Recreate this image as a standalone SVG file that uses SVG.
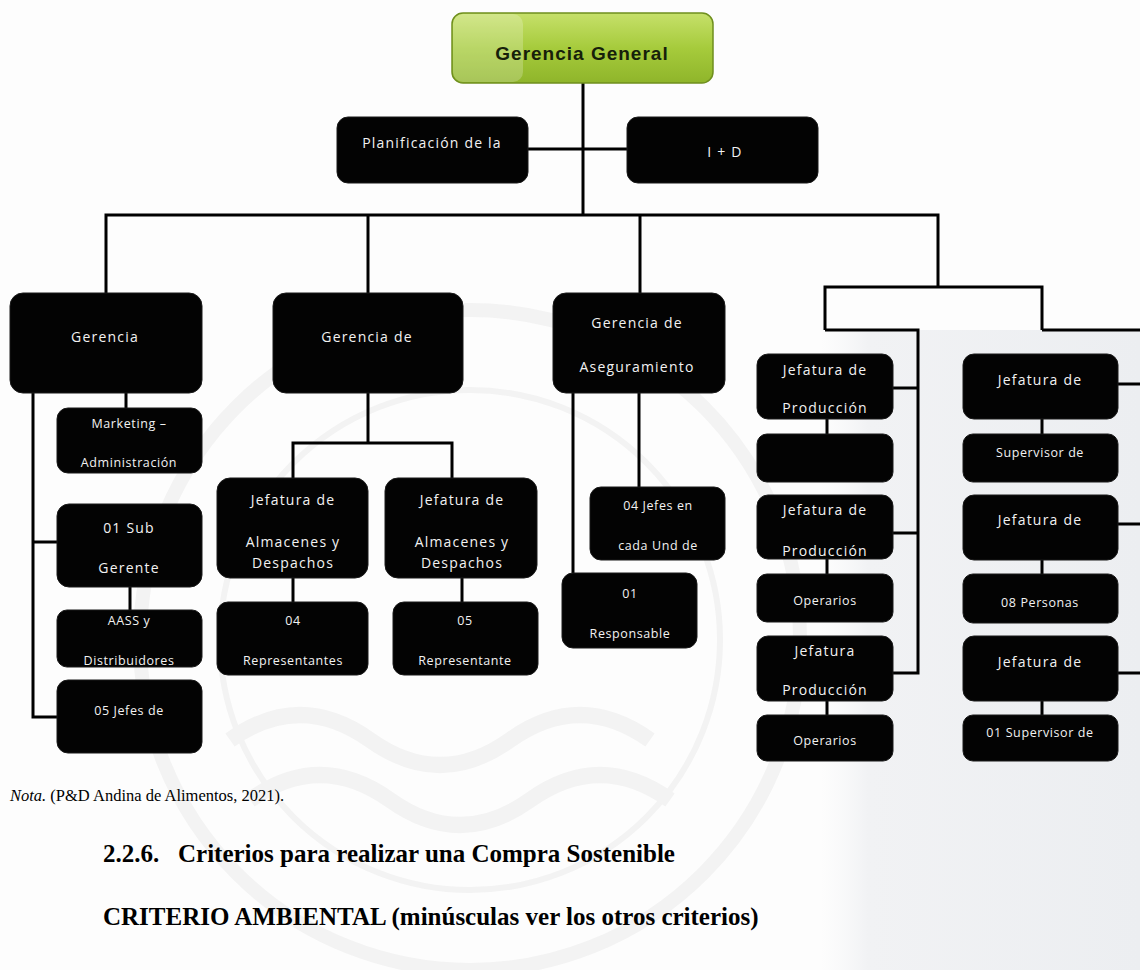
<svg xmlns="http://www.w3.org/2000/svg" width="1140" height="970" viewBox="0 0 1140 970">
  <defs>
    <linearGradient id="gg" x1="0" y1="0" x2="0" y2="1">
      <stop offset="0" stop-color="#c6e06a"/>
      <stop offset="0.5" stop-color="#a6cb3c"/>
      <stop offset="1" stop-color="#8fb52a"/>
    </linearGradient>
    <linearGradient id="side" x1="0" y1="0" x2="1" y2="0">
      <stop offset="0" stop-color="#f6f7f8" stop-opacity="0"/>
      <stop offset="0.15" stop-color="#f1f2f4"/>
      <stop offset="1" stop-color="#eceef1"/>
    </linearGradient>
    <style>
      .box { fill: #030303; stroke: #1a1a1a; stroke-width: 1; }
      .t { font-family: "Open Sans", "Liberation Sans", sans-serif; font-size: 14px; letter-spacing: 1.2px; fill: #f2f2f2; text-anchor: middle; }
      .s { font-size: 12.5px; letter-spacing: 0.6px; }
      .ln { fill: none; stroke: #000; stroke-width: 3; stroke-linejoin: miter; }
      .wm { fill: none; stroke: #f3f3f3; }
      .doc { font-family: "Liberation Serif", "Times New Roman", serif; fill: #000; }
    </style>
  </defs>

  <rect width="1140" height="970" fill="#fdfdfd"/>

  <!-- faint background seal -->
  <g id="watermark">
    <path d="M820 330 H1140 V970 H820 Z" fill="url(#side)"/>
    <circle cx="470" cy="640" r="330" class="wm" stroke-width="14"/>
    <circle cx="470" cy="640" r="250" class="wm" stroke-width="6"/>
    <path d="M230 740 Q300 690 370 740 T510 740 T650 740" class="wm" stroke-width="16"/>
    <path d="M250 800 Q320 750 390 800 T530 800 T670 800" class="wm" stroke-width="16"/>
  </g>

  <!-- connectors -->
  <g id="connectors">
    <path class="ln" d="M583 83 V215"/>
    <path class="ln" d="M528 149 H627"/>
    <path class="ln" d="M106 293 V215 H938 V287"/>
    <path class="ln" d="M368 215 V293"/>
    <path class="ln" d="M640 215 V293"/>
    <path class="ln" d="M825 330 V287 H1042 V330"/>
    <path class="ln" d="M825 330 H918 V673 H893"/>
    <path class="ln" d="M893 388 H918"/>
    <path class="ln" d="M893 533 H918"/>
    <path class="ln" d="M1042 330 H1144 V673 H1118"/>
    <path class="ln" d="M1118 384 H1144"/>
    <path class="ln" d="M1118 524 H1144"/>
    <path class="ln" d="M33 393 V717 H57"/>
    <path class="ln" d="M33 542 H57"/>
    <path class="ln" d="M126 393 V408"/>
    <path class="ln" d="M130 587 V610"/>
    <path class="ln" d="M368 393 V443"/>
    <path class="ln" d="M293 478 V443 H452 V478"/>
    <path class="ln" d="M293 578 V602"/>
    <path class="ln" d="M462 578 V602"/>
    <path class="ln" d="M573 393 V573"/>
    <path class="ln" d="M639 393 V487"/>
    <path class="ln" d="M827 419 V434"/>
    <path class="ln" d="M827 559 V574"/>
    <path class="ln" d="M827 701 V715"/>
    <path class="ln" d="M1042 419 V434"/>
    <path class="ln" d="M1042 560 V574"/>
    <path class="ln" d="M1042 701 V715"/>
  </g>

  <!-- top level -->
  <g id="gerencia-general">
    <rect x="452" y="13" width="261" height="70" rx="11" fill="url(#gg)" stroke="#6f8f1e" stroke-width="1.5"/>
    <rect x="453" y="14" width="70" height="68" rx="10" fill="#ffffff" opacity="0.22"/>
    <text x="582" y="60" font-family="'Liberation Sans', Arial, sans-serif" font-size="19" font-weight="bold" fill="#16200a" text-anchor="middle" letter-spacing="1">Gerencia General</text>
  </g>

  <g id="planificacion">
    <rect class="box" x="337" y="117" width="191" height="66" rx="11"/>
    <text class="t" x="432" y="148">Planificación de la</text>
  </g>
  <g id="i-d">
    <rect class="box" x="627" y="117" width="191" height="66" rx="11"/>
    <text class="t" x="725" y="157">I + D</text>
  </g>

  <!-- left branch -->
  <g id="gerencia">
    <rect class="box" x="10" y="293" width="192" height="100" rx="13"/>
    <text class="t" x="105" y="342">Gerencia</text>
  </g>
  <g id="marketing">
    <rect class="box" x="57" y="408" width="145" height="65" rx="11"/>
    <text class="t s" x="129" y="428">Marketing –</text>
    <text class="t s" x="129" y="467">Administración</text>
  </g>
  <g id="sub-gerente">
    <rect class="box" x="57" y="504" width="145" height="83" rx="12"/>
    <text class="t" x="129" y="533">01 Sub</text>
    <text class="t" x="129" y="573">Gerente</text>
  </g>
  <g id="aass">
    <rect class="box" x="57" y="610" width="145" height="57" rx="10"/>
    <text class="t s" x="129" y="625">AASS y</text>
    <text class="t s" x="129" y="665">Distribuidores</text>
  </g>
  <g id="jefes-05">
    <rect class="box" x="57" y="680" width="145" height="73" rx="11"/>
    <text class="t s" x="129" y="715">05 Jefes de</text>
  </g>

  <!-- second branch -->
  <g id="gerencia-de">
    <rect class="box" x="273" y="293" width="190" height="100" rx="13"/>
    <text class="t" x="367" y="342">Gerencia de</text>
  </g>
  <g id="jefatura-almacenes-1">
    <rect class="box" x="217" y="478" width="151" height="100" rx="13"/>
    <text class="t" x="293" y="505">Jefatura de</text>
    <text class="t" x="293" y="547">Almacenes y</text>
    <text class="t" x="293" y="568">Despachos</text>
  </g>
  <g id="jefatura-almacenes-2">
    <rect class="box" x="385" y="478" width="152" height="100" rx="13"/>
    <text class="t" x="462" y="505">Jefatura de</text>
    <text class="t" x="462" y="547">Almacenes y</text>
    <text class="t" x="462" y="568">Despachos</text>
  </g>
  <g id="representantes-04">
    <rect class="box" x="217" y="602" width="151" height="73" rx="11"/>
    <text class="t s" x="293" y="625">04</text>
    <text class="t s" x="293" y="665">Representantes</text>
  </g>
  <g id="representante-05">
    <rect class="box" x="393" y="602" width="145" height="73" rx="11"/>
    <text class="t s" x="465" y="625">05</text>
    <text class="t s" x="465" y="665">Representante</text>
  </g>

  <!-- third branch -->
  <g id="aseguramiento">
    <rect class="box" x="553" y="293" width="172" height="100" rx="13"/>
    <text class="t" x="637" y="328">Gerencia de</text>
    <text class="t" x="637" y="372">Aseguramiento</text>
  </g>
  <g id="jefes-unidad">
    <rect class="box" x="590" y="487" width="135" height="73" rx="11"/>
    <text class="t s" x="658" y="510">04 Jefes en</text>
    <text class="t s" x="658" y="550">cada Und de</text>
  </g>
  <g id="responsable">
    <rect class="box" x="562" y="573" width="135" height="75" rx="11"/>
    <text class="t s" x="630" y="598">01</text>
    <text class="t s" x="630" y="638">Responsable</text>
  </g>

  <!-- production column -->
  <g id="produccion-1">
    <rect class="box" x="757" y="354" width="136" height="65" rx="11"/>
    <text class="t" x="825" y="375">Jefatura de</text>
    <text class="t" x="825" y="413">Producción</text>
  </g>
  <g id="produccion-1-staff">
    <rect class="box" x="757" y="434" width="136" height="48" rx="10"/>
  </g>
  <g id="produccion-2">
    <rect class="box" x="757" y="495" width="136" height="64" rx="11"/>
    <text class="t" x="825" y="515">Jefatura de</text>
    <text class="t" x="825" y="556">Producción</text>
  </g>
  <g id="operarios-1">
    <rect class="box" x="757" y="574" width="136" height="48" rx="10"/>
    <text class="t s" x="825" y="605">Operarios</text>
  </g>
  <g id="produccion-3">
    <rect class="box" x="757" y="636" width="136" height="65" rx="11"/>
    <text class="t" x="825" y="656">Jefatura</text>
    <text class="t" x="825" y="695">Producción</text>
  </g>
  <g id="operarios-2">
    <rect class="box" x="757" y="715" width="136" height="46" rx="10"/>
    <text class="t s" x="825" y="745">Operarios</text>
  </g>

  <!-- supervision column -->
  <g id="jefatura-s1">
    <rect class="box" x="963" y="354" width="155" height="65" rx="11"/>
    <text class="t" x="1040" y="385">Jefatura de</text>
  </g>
  <g id="supervisor-s1">
    <rect class="box" x="963" y="434" width="155" height="48" rx="10"/>
    <text class="t s" x="1040" y="457">Supervisor de</text>
  </g>
  <g id="jefatura-s2">
    <rect class="box" x="963" y="495" width="155" height="65" rx="11"/>
    <text class="t" x="1040" y="525">Jefatura de</text>
  </g>
  <g id="personas-s2">
    <rect class="box" x="963" y="574" width="155" height="49" rx="10"/>
    <text class="t s" x="1040" y="607">08 Personas</text>
  </g>
  <g id="jefatura-s3">
    <rect class="box" x="963" y="636" width="155" height="65" rx="11"/>
    <text class="t" x="1040" y="667">Jefatura de</text>
  </g>
  <g id="supervisor-s3">
    <rect class="box" x="963" y="715" width="155" height="46" rx="10"/>
    <text class="t s" x="1040" y="737">01 Supervisor de</text>
  </g>

  <!-- caption and following section heading -->
  <g id="caption">
    <text class="doc" x="10" y="801" font-size="16.5"><tspan font-style="italic">Nota.</tspan> (P&amp;D Andina de Alimentos, 2021).</text>
    <text class="doc" x="103" y="862" font-size="25" font-weight="bold" xml:space="preserve">2.2.6.   Criterios para realizar una Compra Sostenible</text>
    <text class="doc" x="103" y="925" font-size="25" font-weight="bold">CRITERIO AMBIENTAL (minúsculas ver los otros criterios)</text>
  </g>
</svg>
